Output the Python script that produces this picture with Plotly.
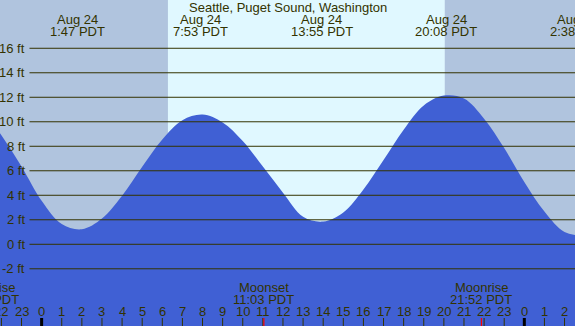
import plotly.graph_objects as go

# ---------------- data ----------------
title = "Seattle, Puget Sound, Washington"

# tide height (ft), read at each hour (hours since Aug 24 00:00 PDT)
tide_hours = list(range(-3, 28))
tide_ft = [11.2, 8.9, 6.35, 3.55, 1.65, 1.23, 2.10, 3.96, 6.33, 8.55, 10.13, 10.59,
           9.95, 8.43, 6.34, 4.21, 2.25, 1.86, 2.60, 4.47, 6.88, 9.35, 11.33, 12.14,
           11.9, 10.25, 7.85, 5.08, 2.67, 1.0, 0.7]

# high / low labels at the top
extreme_hours = [1.78, 7.88, 13.92, 20.13, 26.63]
extreme_dates = ["Aug 24", "Aug 24", "Aug 24", "Aug 24", "Aug 25"]
extreme_times = ["1:47 PDT", "7:53 PDT", "13:55 PDT", "20:08 PDT", "2:38 PDT"]

# sun
sunrise_hour = 6.28
sunset_hour = 20.05

# moon events at the bottom
moon_hours = [-2.65, 11.05, 21.87]
moon_names = ["Moonrise", "Moonset", "Moonrise"]
moon_times = ["21:21 PDT", "11:03 PDT", "21:52 PDT"]

# axis
hour_ticks = list(range(-2, 27))
hour_labels = [str(h % 24) for h in hour_ticks]
ft_ticks = [-2, 0, 2, 4, 6, 8, 10, 12, 14, 16]
ft_labels = [f"{v} ft" for v in ft_ticks]

X_RANGE = [-2.07, 26.52]
Y_RANGE = [-6.67, 19.94]
W, H = 575, 326

# ---------------- styles ----------------
FONT = "Liberation Sans, Arial, sans-serif"
TXT = "#333300"
NIGHT = "#b0c4de"
DAY = "#e0f8ff"
WATER = "#4060d4"


def xp(h):
    return (h - X_RANGE[0]) / (X_RANGE[1] - X_RANGE[0])


def yp_px(px):
    return 1 - px / H


fig = go.Figure()
fig.add_trace(go.Scatter(x=[tide_hours[0], tide_hours[-1]], y=[Y_RANGE[0] - 5] * 2,
                         mode="lines", line=dict(width=0), hoverinfo="skip", showlegend=False))
fig.add_trace(go.Scatter(x=tide_hours, y=tide_ft, mode="lines",
                         line=dict(width=0, shape="spline", smoothing=1.0, color=WATER),
                         fill="tonexty", fillcolor=WATER, showlegend=False))

shapes = []
# day / night background
shapes.append(dict(type="rect", xref="x", yref="paper", x0=X_RANGE[0], x1=sunrise_hour, y0=0, y1=1,
                   fillcolor=NIGHT, line=dict(width=0), layer="below"))
shapes.append(dict(type="rect", xref="x", yref="paper", x0=sunrise_hour, x1=sunset_hour, y0=0, y1=1,
                   fillcolor=DAY, line=dict(width=0), layer="below"))
shapes.append(dict(type="rect", xref="x", yref="paper", x0=sunset_hour, x1=X_RANGE[1], y0=0, y1=1,
                   fillcolor=NIGHT, line=dict(width=0), layer="below"))
# grid lines
for v in ft_ticks:
    shapes.append(dict(type="line", xref="paper", yref="y", x0=29.5 / W, x1=1, y0=v, y1=v,
                       line=dict(color=TXT, width=1), layer="above"))
# hour ticks
for h in hour_ticks:
    wide = h % 24 == 0
    shapes.append(dict(type="line", xref="x", yref="paper", x0=h, x1=h, y0=0, y1=8 / H,
                       line=dict(color="#000000" if wide else TXT, width=3 if wide else 1),
                       layer="above"))
for h in moon_hours:
    shapes.append(dict(type="line", xref="x", yref="paper", x0=h, x1=h, y0=0, y1=8 / H,
                       line=dict(color="#ff0000", width=1.2), layer="above"))

ann = []
f13 = dict(family=FONT, size=13, color=TXT)
ann.append(dict(text=title, xref="paper", yref="paper", x=0.5, y=yp_px(8),
                xanchor="center", yanchor="middle", showarrow=False, font=f13))
for h, d, t in zip(extreme_hours, extreme_dates, extreme_times):
    ann.append(dict(text=d, xref="paper", yref="paper", x=xp(h), y=yp_px(20),
                    xanchor="center", yanchor="middle", showarrow=False, font=f13))
    ann.append(dict(text=t, xref="paper", yref="paper", x=xp(h), y=yp_px(31.5),
                    xanchor="center", yanchor="middle", showarrow=False, font=f13))
for h, n, t in zip(moon_hours, moon_names, moon_times):
    ann.append(dict(text=n, xref="paper", yref="paper", x=xp(h), y=yp_px(287.5),
                    xanchor="center", yanchor="middle", showarrow=False, font=f13))
    ann.append(dict(text=t, xref="paper", yref="paper", x=xp(h), y=yp_px(299),
                    xanchor="center", yanchor="middle", showarrow=False, font=f13))
for h, lab in zip(hour_ticks, hour_labels):
    ann.append(dict(text=lab, xref="paper", yref="paper", x=xp(h), y=yp_px(311.5),
                    xanchor="center", yanchor="middle", showarrow=False, font=f13))
for v, lab in zip(ft_ticks, ft_labels):
    ann.append(dict(text=lab, xref="paper", yref="y", x=26.5 / W, y=v,
                    xanchor="right", yanchor="middle", showarrow=False, font=f13))

fig.update_layout(
    width=W, height=H, margin=dict(l=0, r=0, t=0, b=0),
    paper_bgcolor=NIGHT, plot_bgcolor=NIGHT,
    xaxis=dict(range=X_RANGE, visible=False, fixedrange=True),
    yaxis=dict(range=Y_RANGE, visible=False, fixedrange=True),
    shapes=shapes, annotations=ann, showlegend=False,
)
fig.write_html("out.html", config={"displayModeBar": False},
               post_script="document.body.style.margin='0px';document.body.style.overflow='hidden';")
